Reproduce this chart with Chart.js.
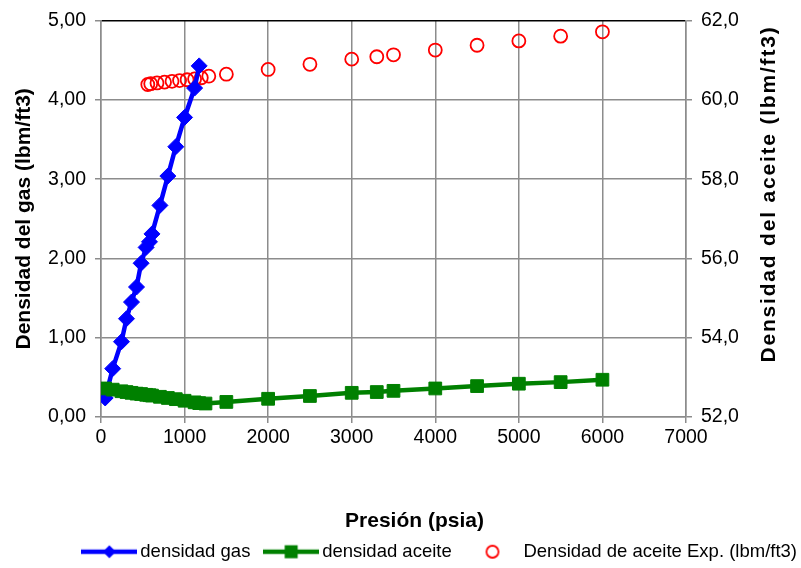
<!DOCTYPE html>
<html><head><meta charset="utf-8">
<script src="https://cdn.jsdelivr.net/npm/chart.js@4.4.1/dist/chart.umd.min.js"></script>
<style>html,body{margin:0;padding:0;background:#fff;}</style>
</head><body>
<canvas id="c" width="801" height="568"></canvas>
<script>
// ---------- data ----------
const xAxisTitle = 'Presión (psia)';
const leftAxisTitle = 'Densidad del gas (lbm/ft3)';
const rightAxisTitle = 'Densidad del aceite (lbm/ft3)';
const seriesNames = ['densidad gas', 'densidad aceite', 'Densidad de aceite Exp. (lbm/ft3)'];

const xTickLabels = ['0', '1000', '2000', '3000', '4000', '5000', '6000', '7000'];
const leftTickLabels = ['0,00', '1,00', '2,00', '3,00', '4,00', '5,00'];
const rightTickLabels = ['52,0', '54,0', '56,0', '58,0', '60,0', '62,0'];

const gasPressure = [50, 140, 245, 305, 365, 425, 480, 540, 580, 610, 705, 800, 895, 1000, 1120, 1175];
const gasDensity  = [0.24, 0.61, 0.95, 1.24, 1.45, 1.64, 1.94, 2.14, 2.21, 2.31, 2.67, 3.04, 3.41, 3.78, 4.15, 4.43];

const oilPressure = [50, 140, 245, 305, 365, 425, 480, 540, 580, 610, 705, 800, 895, 1000, 1120, 1175, 1250, 1500, 2000, 2500, 3000, 3300, 3500, 4000, 4500, 5000, 5500, 6000];
const oilDensity  = [52.72, 52.69, 52.65, 52.63, 52.61, 52.59, 52.58, 52.56, 52.55, 52.54, 52.51, 52.48, 52.45, 52.41, 52.37, 52.35, 52.34, 52.38, 52.46, 52.53, 52.61, 52.63, 52.66, 52.72, 52.78, 52.84, 52.88, 52.94];

const expPressure   = [560, 595, 670, 760, 850, 940, 1030, 1120, 1200, 1290, 1500, 2000, 2500, 3000, 3300, 3500, 4000, 4500, 5000, 5500, 6000];
const expOilDensity = [60.39, 60.41, 60.43, 60.45, 60.47, 60.49, 60.51, 60.53, 60.56, 60.60, 60.65, 60.77, 60.90, 61.03, 61.09, 61.14, 61.26, 61.38, 61.49, 61.61, 61.72];

// ---------- helpers ----------
const FONT = "'Liberation Sans', Arial, sans-serif";
const GRID = '#8c8c8c';
const BLUE = '#0000ff', GREEN = '#008000', RED = '#ff0000';
const pts = (xs, ys) => xs.map((x, i) => ({x: x, y: ys[i]}));

function makeKey(kind) {
  const c = document.createElement('canvas');
  c.width = 56; c.height = 18;
  const g = c.getContext('2d');
  const cx = 28, cy = 9;
  if (kind === 'gas' || kind === 'oil') {
    g.strokeStyle = kind === 'gas' ? BLUE : GREEN;
    g.lineWidth = 4.5;
    g.beginPath(); g.moveTo(0, cy); g.lineTo(56, cy); g.stroke();
  }
  if (kind === 'gas') {
    g.fillStyle = BLUE;
    g.beginPath(); g.moveTo(cx - 6.5, cy); g.lineTo(cx, cy - 6.5); g.lineTo(cx + 6.5, cy); g.lineTo(cx, cy + 6.5); g.closePath(); g.fill();
  } else if (kind === 'oil') {
    g.fillStyle = GREEN;
    g.fillRect(cx - 6.5, cy - 6.5, 13, 13);
  } else {
    g.strokeStyle = RED; g.lineWidth = 1.8;
    g.beginPath(); g.arc(cx, cy, 6, 0, Math.PI * 2); g.stroke();
  }
  return c;
}
const keys = [makeKey('gas'), makeKey('oil'), makeKey('exp')];

const titlesPlugin = {
  id: 'extraTitles',
  afterDraw(chart) {
    const ctx = chart.ctx;
    const area = chart.chartArea;
    ctx.save();
    ctx.fillStyle = '#000';
    ctx.textAlign = 'center';
    ctx.textBaseline = 'middle';
    // x axis title
    ctx.font = 'bold 21px ' + FONT;
    ctx.fillText(xAxisTitle, (area.left + area.right) / 2 + 21, 521);
    // right axis title, reading bottom to top
    ctx.translate(chart.width - 32, 194);
    ctx.rotate(-Math.PI / 2);
    try { ctx.letterSpacing = '1.8px'; } catch (e) {}
    ctx.fillText(rightAxisTitle, 0, 0);
    ctx.restore();
  }
};
const legendShift = {
  id: 'legendShift',
  afterLayout(chart) { const l = chart.legend; l.left += 15; l.right += 15; }
};

new Chart(document.getElementById('c'), {
  type: 'scatter',
  data: {
    datasets: [
      {
        label: seriesNames[0], data: pts(gasPressure, gasDensity), yAxisID: 'y',
        showLine: true, borderColor: BLUE, backgroundColor: BLUE, borderWidth: 4.5,
        pointStyle: 'rectRot', pointRadius: 8, pointBorderWidth: 1, pointBackgroundColor: BLUE, pointBorderColor: BLUE, order: 2
      },
      {
        label: seriesNames[1], data: pts(oilPressure, oilDensity), yAxisID: 'y2',
        showLine: true, borderColor: GREEN, backgroundColor: GREEN, borderWidth: 4.5,
        pointStyle: 'rect', pointRadius: 9, pointBorderWidth: 1, pointBackgroundColor: GREEN, pointBorderColor: GREEN, order: 1
      },
      {
        label: seriesNames[2], data: pts(expPressure, expOilDensity), yAxisID: 'y2',
        showLine: false, borderColor: RED, backgroundColor: 'rgba(0,0,0,0)',
        pointStyle: 'circle', pointRadius: 6.5, pointBorderWidth: 1.8, pointBackgroundColor: 'rgba(0,0,0,0)', pointBorderColor: RED, order: 3
      }
    ]
  },
  options: {
    responsive: false,
    animation: false,
    devicePixelRatio: 1,
    layout: { padding: { top: 20, bottom: -3, left: 0, right: 0 } },
    plugins: {
      tooltip: { enabled: false },
      legend: {
        position: 'bottom',
        align: 'end',
        labels: {
          usePointStyle: true,
          pointStyleWidth: 43.5,
          padding: 19,
          color: '#000',
          font: { family: FONT, size: 18.5 },
          sort: (a, b) => a.datasetIndex - b.datasetIndex,
          generateLabels(chart) {
            const items = Chart.defaults.plugins.legend.labels.generateLabels(chart);
            items.forEach((it) => { it.pointStyle = keys[it.datasetIndex]; it.fontColor = '#000'; });
            return items;
          }
        }
      }
    },
    scales: {
      x: {
        type: 'linear', min: 0, max: 7000,
        ticks: { stepSize: 1000, padding: 3, color: '#000', font: { family: FONT, size: 19.5 },
                 callback: (v, i) => xTickLabels[i] },
        grid: { color: GRID, lineWidth: 1.5, tickLength: 6, tickColor: GRID },
        border: { color: GRID, width: 1.5 },
        title: { display: false, text: xAxisTitle },
        afterFit(s) { s.height = 106.5; }
      },
      y: {
        type: 'linear', position: 'left', min: 0, max: 5,
        ticks: { stepSize: 1, padding: 9, color: '#000', font: { family: FONT, size: 19.5 },
                 callback: (v, i) => leftTickLabels[i] },
        grid: { color: (c) => (c.tick && c.tick.value === 5 ? '#000' : GRID), lineWidth: 1.5, tickLength: 6, tickColor: GRID },
        border: { color: GRID, width: 1.5 },
        title: { display: true, text: leftAxisTitle, color: '#000', font: { family: FONT, size: 21, weight: 'bold' },
                 padding: { top: 11.5, bottom: 0 } },
        afterFit(s) { s.width = 101; }
      },
      y2: {
        type: 'linear', position: 'right', min: 52, max: 62,
        ticks: { stepSize: 2, padding: 9, color: '#000', font: { family: FONT, size: 19.5 },
                 callback: (v, i) => rightTickLabels[i] },
        grid: { drawOnChartArea: false, color: GRID, lineWidth: 1.5, tickLength: 6, tickColor: GRID },
        border: { color: GRID, width: 1.5 },
        title: { display: false, text: rightAxisTitle },
        afterFit(s) { s.width = 115; }
      }
    }
  },
  plugins: [titlesPlugin, legendShift]
});
</script>
</body></html>
